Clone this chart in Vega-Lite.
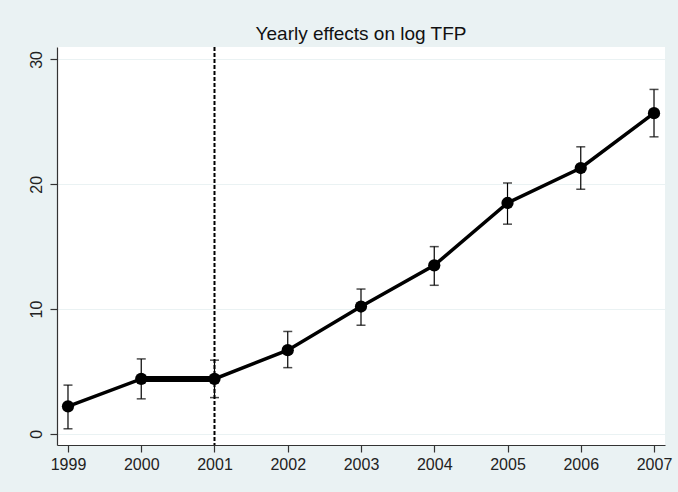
{
  "$schema": "https://vega.github.io/schema/vega-lite/v6.json",
  "width": 608,
  "height": 398,
  "autosize": {"type": "none"},
  "padding": {"left": 57, "top": 47, "right": 13, "bottom": 47},
  "background": "#eaf2f3",
  "title": {"text": "Yearly effects on log TFP", "font": "Liberation Sans", "fontSize": 19, "fontWeight": "normal", "color": "#111111", "offset": 2, "anchor": "middle"},
  "config": {
    "view": {"fill": "white", "stroke": null},
    "axis": {"labelFont": "Liberation Sans", "labelFontSize": 16, "labelColor": "#222222", "domainColor": "#333333", "tickColor": "#333333", "tickSize": 7, "domainWidth": 1.2, "tickWidth": 1.2, "title": null}
  },
  "data": {"values": [
    {"year": 1999, "est": 2.2, "lo": 0.4, "hi": 3.9},
    {"year": 2000, "est": 4.4, "lo": 2.8, "hi": 6.0},
    {"year": 2001, "est": 4.4, "lo": 2.9, "hi": 5.9},
    {"year": 2002, "est": 6.7, "lo": 5.3, "hi": 8.2},
    {"year": 2003, "est": 10.2, "lo": 8.7, "hi": 11.6},
    {"year": 2004, "est": 13.5, "lo": 11.9, "hi": 15.0},
    {"year": 2005, "est": 18.5, "lo": 16.8, "hi": 20.1},
    {"year": 2006, "est": 21.3, "lo": 19.6, "hi": 23.0},
    {"year": 2007, "est": 25.7, "lo": 23.8, "hi": 27.6}
  ]},
  "encoding": {
    "x": {"field": "year", "type": "quantitative", "scale": {"domain": [1998.85, 2007.15], "nice": false, "zero": false},
      "axis": {"values": [1999, 2000, 2001, 2002, 2003, 2004, 2005, 2006, 2007], "format": "d", "grid": false, "labelPadding": 4, "labelFlush": false}}
  },
  "layer": [
    {
      "mark": {"type": "rule", "color": "#000000", "strokeWidth": 1.2},
      "encoding": {
        "y": {"field": "lo", "type": "quantitative", "scale": {"domain": [-0.9, 31.0], "nice": false, "zero": false},
          "axis": {"values": [0, 10, 20, 30], "grid": true, "gridColor": "#eaf2f3", "gridWidth": 1.2, "labelAngle": -90, "labelPadding": 6}},
        "y2": {"field": "hi"}
      }
    },
    {
      "mark": {"type": "tick", "orient": "horizontal", "color": "#000000", "size": 9, "thickness": 1.5},
      "encoding": {"y": {"field": "lo", "type": "quantitative"}}
    },
    {
      "mark": {"type": "tick", "orient": "horizontal", "color": "#000000", "size": 9, "thickness": 1.5},
      "encoding": {"y": {"field": "hi", "type": "quantitative"}}
    },
    {
      "mark": {"type": "line", "color": "#000000", "strokeWidth": 3.5},
      "encoding": {"y": {"field": "est", "type": "quantitative"}}
    },
    {
      "transform": [{"filter": "datum.year == 2000 || datum.year == 2001"}],
      "mark": {"type": "line", "color": "#000000", "strokeWidth": 6},
      "encoding": {"y": {"field": "est", "type": "quantitative"}}
    },
    {
      "mark": {"type": "point", "filled": true, "shape": "circle", "color": "#000000", "size": 150, "opacity": 1},
      "encoding": {"y": {"field": "est", "type": "quantitative"}}
    },
    {
      "data": {"values": [{"year": 2001}]},
      "mark": {"type": "rule", "color": "#000000", "strokeWidth": 2, "strokeDash": [4, 2]},
      "encoding": {}
    }
  ]
}
